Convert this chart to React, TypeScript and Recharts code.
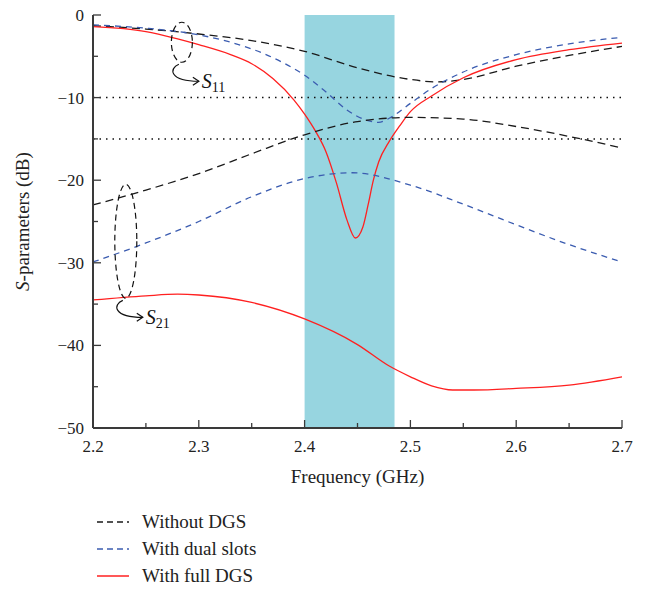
import React from "react";
import {
  ComposedChart, Line, XAxis, YAxis, ReferenceLine, ReferenceArea, ReferenceDot,
} from "recharts";

const FONT = "Times New Roman, Liberation Serif, DejaVu Serif, Tinos, serif";

const X_TICKS = [2.2, 2.25, 2.3, 2.35, 2.4, 2.45, 2.5, 2.55, 2.6, 2.65, 2.7];
const Y_TICKS = [-50, -45, -40, -35, -30, -25, -20, -15, -10, -5, 0];
const BAND = [2.4, 2.485];
const LIMITS = [-10, -15];

// S11 curves
const s11Without = [
  { f: 2.2, v: -1.3 }, { f: 2.25, v: -1.7 }, { f: 2.3, v: -2.3 }, { f: 2.35, v: -3.1 },
  { f: 2.4, v: -4.4 }, { f: 2.45, v: -6.4 }, { f: 2.5, v: -7.8 }, { f: 2.525, v: -8.1 },
  { f: 2.55, v: -7.8 }, { f: 2.6, v: -6.2 }, { f: 2.65, v: -4.9 }, { f: 2.7, v: -3.8 },
];
const s11Dual = [
  { f: 2.2, v: -1.2 }, { f: 2.25, v: -1.6 }, { f: 2.3, v: -2.4 }, { f: 2.33, v: -3.3 },
  { f: 2.36, v: -4.6 }, { f: 2.38, v: -5.8 }, { f: 2.4, v: -7.3 }, { f: 2.42, v: -9.3 },
  { f: 2.44, v: -11.5 }, { f: 2.46, v: -12.8 }, { f: 2.47, v: -13.0 }, { f: 2.48, v: -12.5 },
  { f: 2.5, v: -10.7 }, { f: 2.52, v: -8.9 }, { f: 2.55, v: -6.9 }, { f: 2.6, v: -4.8 },
  { f: 2.65, v: -3.5 }, { f: 2.7, v: -2.7 },
];
const s11Full = [
  { f: 2.2, v: -1.4 }, { f: 2.25, v: -2.0 }, { f: 2.28, v: -2.9 }, { f: 2.3, v: -3.6 },
  { f: 2.33, v: -4.8 }, { f: 2.35, v: -5.9 }, { f: 2.37, v: -7.7 }, { f: 2.39, v: -10.3 },
  { f: 2.4, v: -12.0 }, { f: 2.41, v: -14.0 }, { f: 2.42, v: -16.5 }, { f: 2.43, v: -20.3 },
  { f: 2.44, v: -24.8 }, { f: 2.448, v: -27.0 }, { f: 2.455, v: -25.7 }, { f: 2.46, v: -23.0 },
  { f: 2.465, v: -20.0 }, { f: 2.47, v: -17.8 }, { f: 2.48, v: -15.3 }, { f: 2.49, v: -13.4 },
  { f: 2.5, v: -11.7 }, { f: 2.52, v: -9.8 }, { f: 2.55, v: -7.6 }, { f: 2.6, v: -5.4 },
  { f: 2.65, v: -4.2 }, { f: 2.7, v: -3.4 },
];

// S21 curves
const s21Without = [
  { f: 2.2, v: -23.0 }, { f: 2.25, v: -21.2 }, { f: 2.3, v: -19.2 }, { f: 2.35, v: -16.8 },
  { f: 2.4, v: -14.5 }, { f: 2.45, v: -12.9 }, { f: 2.5, v: -12.4 }, { f: 2.55, v: -12.6 },
  { f: 2.6, v: -13.5 }, { f: 2.65, v: -14.7 }, { f: 2.7, v: -16.1 },
];
const s21Dual = [
  { f: 2.2, v: -29.9 }, { f: 2.25, v: -27.6 }, { f: 2.3, v: -25.0 }, { f: 2.35, v: -22.0 },
  { f: 2.4, v: -19.8 }, { f: 2.445, v: -19.1 }, { f: 2.5, v: -20.6 }, { f: 2.55, v: -22.9 },
  { f: 2.6, v: -25.4 }, { f: 2.65, v: -27.8 }, { f: 2.7, v: -29.9 },
];
const s21Full = [
  { f: 2.2, v: -34.5 }, { f: 2.25, v: -34.0 }, { f: 2.28, v: -33.8 }, { f: 2.3, v: -33.9 },
  { f: 2.35, v: -34.8 }, { f: 2.4, v: -36.8 }, { f: 2.45, v: -39.9 }, { f: 2.48, v: -42.5 },
  { f: 2.5, v: -43.8 }, { f: 2.52, v: -44.9 }, { f: 2.54, v: -45.4 }, { f: 2.56, v: -45.4 },
  { f: 2.6, v: -45.2 }, { f: 2.65, v: -44.8 }, { f: 2.7, v: -43.8 },
];

const SERIES = [
  { name: "Without DGS", color: "#1a1a1a", dash: "8 5", s11: s11Without, s21: s21Without },
  { name: "With dual slots", color: "#3b5cb0", dash: "6 5", s11: s11Dual, s21: s21Dual },
  { name: "With full DGS", color: "#ff2020", dash: undefined, s11: s11Full, s21: s21Full },
];

const AXIS = "#3a3a3a";
const minus = (v: number) => (v < 0 ? "\u2212" + Math.abs(v) : String(v));
const isMajorX = (v: number) => Math.abs(v * 10 - Math.round(v * 10)) < 1e-6;
const isMajorY = (v: number) => v % 10 === 0;

function BottomTick({ x, y, payload }: any) {
  const major = isMajorX(payload.value);
  return (
    <g>
      <line x1={x} x2={x} y1={y} y2={y - (major ? 8 : 5)} stroke={AXIS} strokeWidth={1.3} />
      {major && (
        <text x={x} y={y + 24} textAnchor="middle" style={{ fontFamily: FONT }} fontSize={17} fill="#222">
          {payload.value.toFixed(1)}
        </text>
      )}
    </g>
  );
}

function TopTick({ x, y, payload }: any) {
  const major = isMajorX(payload.value);
  return <line x1={x} x2={x} y1={y} y2={y + (major ? 8 : 5)} stroke={AXIS} strokeWidth={1.3} />;
}

function LeftTick({ x, y, payload }: any) {
  const major = isMajorY(payload.value);
  return (
    <g>
      <line x1={x} x2={x + (major ? 8 : 5)} y1={y} y2={y} stroke={AXIS} strokeWidth={1.3} />
      {major && (
        <text x={x - 9} y={y + 6} textAnchor="end" style={{ fontFamily: FONT }} fontSize={17} fill="#222">
          {minus(payload.value)}
        </text>
      )}
    </g>
  );
}

function RightTick({ x, y, payload }: any) {
  const major = isMajorY(payload.value);
  return <line x1={x} x2={x - (major ? 8 : 5)} y1={y} y2={y} stroke={AXIS} strokeWidth={1.3} />;
}

function YLabel({ viewBox }: any) {
  const cx = 22;
  const cy = viewBox.y + viewBox.height / 2;
  return (
    <text x={cx} y={cy} transform={`rotate(-90 ${cx} ${cy})`} textAnchor="middle"
      style={{ fontFamily: FONT }} fontSize={19} fill="#222" dominantBaseline="central">
      <tspan fontStyle="italic">S</tspan>-parameters (dB)
    </text>
  );
}

function XLabel({ viewBox }: any) {
  return (
    <text x={viewBox.x + viewBox.width / 2} y={viewBox.y + 55} textAnchor="middle"
      style={{ fontFamily: FONT }} fontSize={19} fill="#222">
      Frequency (GHz)
    </text>
  );
}

// dashed ellipse + hooked arrow + label, drawn around a data point
function callout(rx: number, ry: number, sub: string) {
  return ({ cx, cy }: any) => {
    const bx = cx - 3;
    const by = cy + ry;
    const ex = bx + 20;
    const ey = by + 19;
    return (
      <g>
        <ellipse cx={cx} cy={cy} rx={rx} ry={ry} fill="none" stroke="#111" strokeWidth={1.2} strokeDasharray="6 4" />
        <path d={`M ${bx} ${by + 2} C ${bx - 10} ${by + 6}, ${bx - 10} ${ey}, ${ex} ${ey}`}
          fill="none" stroke="#111" strokeWidth={1.2} />
        <path d={`M ${ex - 6} ${ey - 4} L ${ex} ${ey} L ${ex - 6} ${ey + 4}`} fill="none" stroke="#111" strokeWidth={1.2} />
        <text x={ex + 3} y={ey + 7} style={{ fontFamily: FONT }} fontSize={20} fill="#111">
          <tspan fontStyle="italic">S</tspan>
          <tspan fontSize={14} dy={4}>{sub}</tspan>
        </text>
      </g>
    );
  };
}

export default function App() {
  return (
    <div style={{ position: "absolute", left: 0, top: 0, width: 647, height: 593, background: "#fff", fontFamily: FONT }}>
      <ComposedChart width={647} height={593} margin={{ top: 15, right: 25, bottom: 95, left: 0 }}
        style={{ fontFamily: FONT }}>
        <XAxis dataKey="f" type="number" domain={[2.2, 2.7]} ticks={X_TICKS} interval={0}
          tickSize={0} tickMargin={0} tick={<BottomTick />}
          axisLine={{ stroke: AXIS, strokeWidth: 2 }} tickLine={false} height={70}
          label={<XLabel />} />
        <XAxis xAxisId="top" dataKey="f" type="number" orientation="top" domain={[2.2, 2.7]} ticks={X_TICKS}
          interval={0} tickSize={0} tickMargin={0} tick={<TopTick />} height={0}
          axisLine={{ stroke: AXIS, strokeWidth: 2 }} tickLine={false} />
        <YAxis type="number" domain={[-50, 0]} ticks={Y_TICKS} interval={0} width={93}
          tickSize={0} tickMargin={0} tick={<LeftTick />} tickLine={false}
          axisLine={{ stroke: AXIS, strokeWidth: 2 }} label={<YLabel />} />
        <YAxis yAxisId="right" type="number" orientation="right" domain={[-50, 0]} ticks={Y_TICKS}
          interval={0} width={0} tickSize={0} tickMargin={0} tick={<RightTick />} tickLine={false}
          axisLine={{ stroke: AXIS, strokeWidth: 2 }} />
        <ReferenceArea x1={BAND[0]} x2={BAND[1]} y1={-50} y2={0} fill="#97d5e0" fillOpacity={1} stroke="none" />
        {LIMITS.map((l) => (
          <ReferenceLine key={l} y={l} stroke="#111" strokeWidth={1.5} strokeDasharray="1.5 5" />
        ))}
        {SERIES.map((s) => (
          <Line key={s.name + "11"} data={s.s11} dataKey="v" type="monotone" stroke={s.color}
            strokeWidth={1.3} strokeDasharray={s.dash} dot={false} isAnimationActive={false} />
        ))}
        {SERIES.map((s) => (
          <Line key={s.name + "21"} data={s.s21} dataKey="v" type="monotone" stroke={s.color}
            strokeWidth={1.3} strokeDasharray={s.dash} dot={false} isAnimationActive={false} />
        ))}
        <ReferenceDot x={2.284} y={-3.3} r={0} shape={callout(10.5, 20, "11")} />
        <ReferenceDot x={2.231} y={-27.4} r={0} shape={callout(11, 57, "21")} />
      </ComposedChart>
      <div style={{ position: "absolute", left: 96, top: 508, fontFamily: FONT, fontSize: 19, color: "#222" }}>
        {SERIES.map((s) => (
          <div key={s.name} style={{ display: "flex", alignItems: "center", height: 27 }}>
            <svg width={34} height={10} style={{ marginRight: 12 }}>
              <line x1={1} x2={33} y1={5} y2={5} stroke={s.color} strokeWidth={1.5} strokeDasharray={s.dash ? "6 4" : undefined} />
            </svg>
            <span>{s.name}</span>
          </div>
        ))}
      </div>
    </div>
  );
}
